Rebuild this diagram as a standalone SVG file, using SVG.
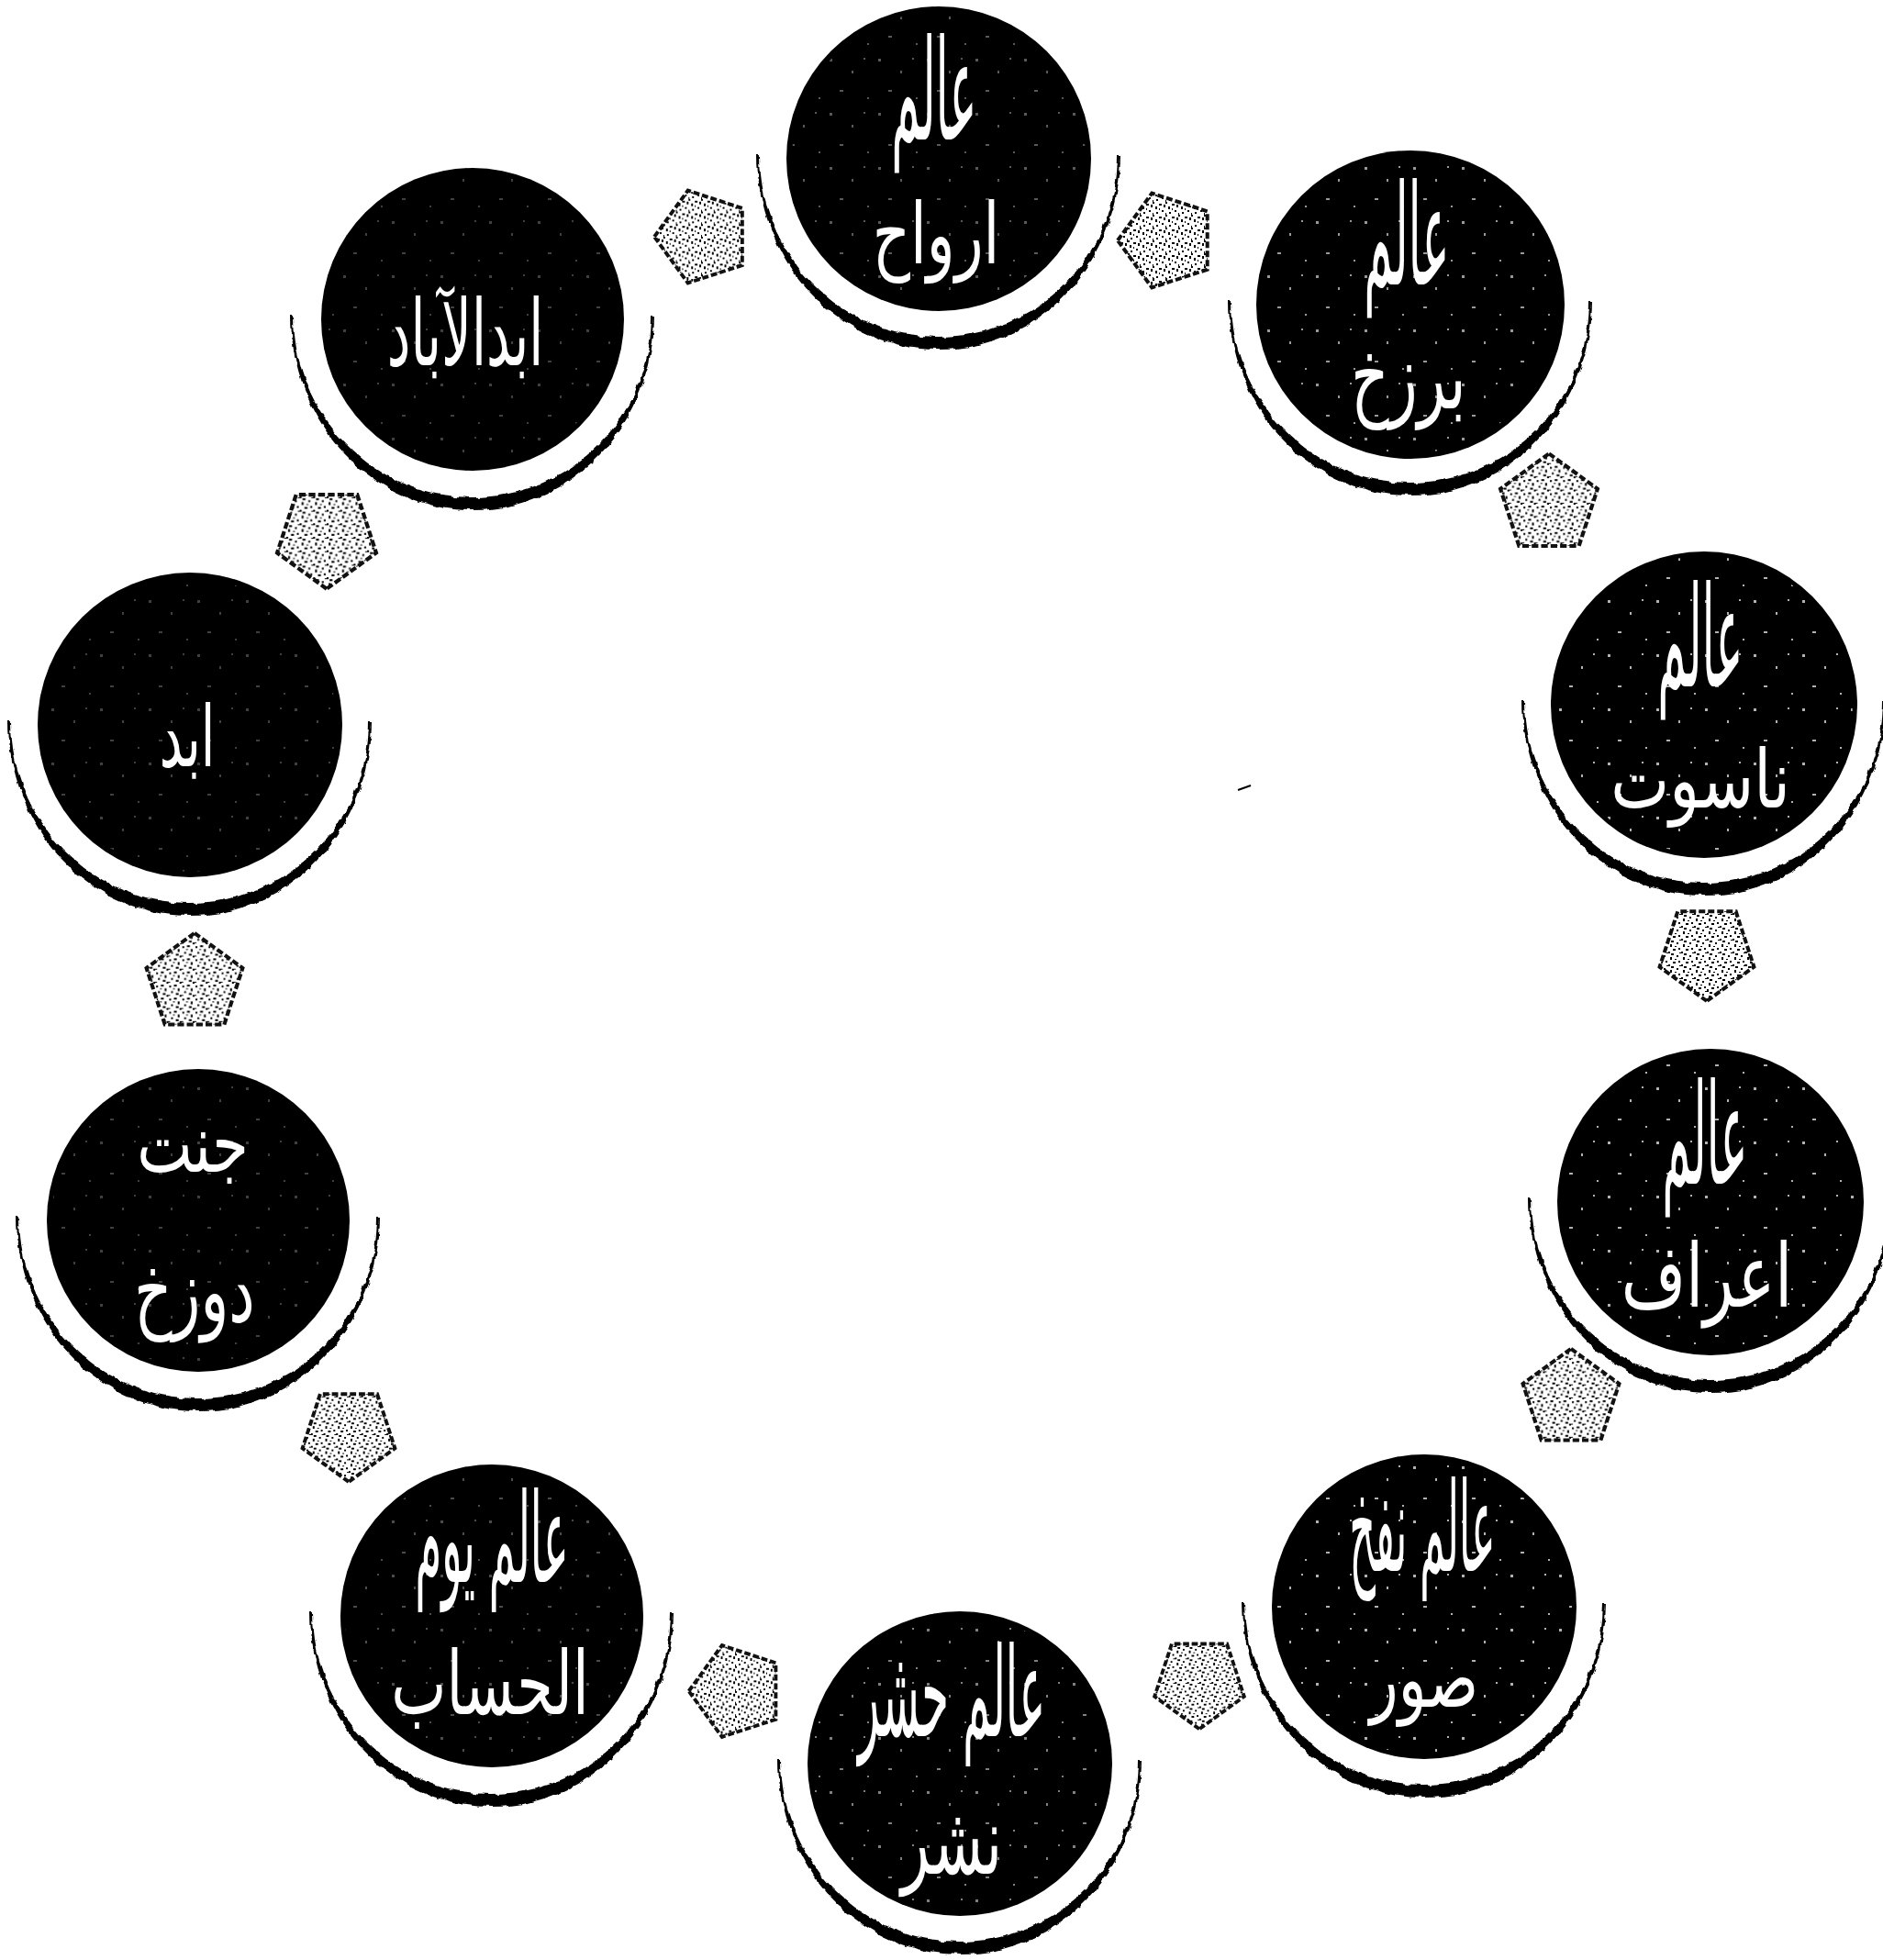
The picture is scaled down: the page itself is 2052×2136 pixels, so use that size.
<svg xmlns="http://www.w3.org/2000/svg" xmlns:xlink="http://www.w3.org/1999/xlink" width="2052" height="2136" viewBox="0 0 2052 2136">
<style>
.disk{fill:#000}
.ring{fill:#000}
.t{fill:#fff;font-family:"DejaVu Sans","Noto Sans",sans-serif;font-size:80px;text-anchor:middle}
.arr{fill:url(#speck);stroke:#111;stroke-width:4;stroke-dasharray:7 3}
.dots{fill:url(#wdots)}
</style>
<defs>
<pattern id="speck" width="14" height="14" patternUnits="userSpaceOnUse">
<rect width="14" height="14" fill="#fff"/>
<rect x="1" y="2" width="2" height="2" fill="#000"/>
<rect x="6" y="1" width="3" height="2" fill="#000"/>
<rect x="10" y="5" width="2" height="3" fill="#000"/>
<rect x="3" y="8" width="2" height="2" fill="#000"/>
<rect x="8" y="10" width="3" height="2" fill="#000"/>
<rect x="12" y="12" width="2" height="2" fill="#000"/>
<rect x="0" y="12" width="2" height="1" fill="#000"/>
<rect x="5" y="5" width="2" height="1" fill="#000"/>
</pattern>
<pattern id="wdots" width="53" height="59" patternUnits="userSpaceOnUse">
<rect x="3" y="5" width="3" height="3" fill="#fff"/>
<rect x="27" y="18" width="2" height="3" fill="#fff"/>
<rect x="14" y="39" width="4" height="2" fill="#fff"/>
<rect x="44" y="47" width="2" height="2" fill="#fff"/>
<rect x="40" y="4" width="2" height="2" fill="#fff"/>
</pattern>
<filter id="rough" x="-10%" y="-10%" width="120%" height="120%">
<feTurbulence type="fractalNoise" baseFrequency="0.09" numOctaves="2" seed="3"/>
<feDisplacementMap in="SourceGraphic" scale="6" xChannelSelector="R" yChannelSelector="G"/>
</filter>
<path id="ringp" d="M -198,-4 A 198 212 0 0 0 198,-4 L 195,-4 A 195 198 0 0 1 -195,-4 Z"/>
<polygon id="pent" points="0,-54 51.4,-16.7 31.7,43.7 -31.7,43.7 -51.4,-16.7"/>
</defs>
<rect width="2052" height="2136" fill="#fff"/>

<g id="node-arwah">
<use xlink:href="#ringp" class="ring" filter="url(#rough)" transform="translate(1023,173)"/>
<circle class="disk" cx="1023" cy="173" r="166"/>
<circle class="dots" cx="1023" cy="173" r="160" opacity="0.35"/>
<text class="t" transform="translate(1018,152) scale(0.62,1.9)">عالم</text>
<text class="t" transform="translate(1020,287) scale(0.8,1.15)">ارواح</text>
</g>

<g id="node-barzakh">
<use xlink:href="#ringp" class="ring" filter="url(#rough)" transform="translate(1537,332)"/>
<circle class="disk" cx="1537" cy="332" r="168"/>
<circle class="dots" cx="1537" cy="332" r="162" opacity="0.6"/>
<text class="t" transform="translate(1533,310) scale(0.62,1.9)">عالم</text>
<text class="t" transform="translate(1535,445) scale(0.8,1.25)">برزخ</text>
</g>

<g id="node-nasut">
<use xlink:href="#ringp" class="ring" filter="url(#rough)" transform="translate(1857,768)"/>
<circle class="disk" cx="1857" cy="768" r="167"/>
<circle class="dots" cx="1857" cy="768" r="162" opacity="0.7"/>
<text class="t" transform="translate(1853,748) scale(0.62,1.9)">عالم</text>
<text class="t" transform="translate(1853,880) scale(0.85,1.1)">ناسوت</text>
</g>

<g id="node-aaraf">
<use xlink:href="#ringp" class="ring" filter="url(#rough)" transform="translate(1864,1310)"/>
<circle class="disk" cx="1864" cy="1310" r="167"/>
<circle class="dots" cx="1864" cy="1310" r="162" opacity="0.7"/>
<text class="t" transform="translate(1858,1290) scale(0.62,1.9)">عالم</text>
<text class="t" transform="translate(1860,1424) scale(0.85,1.2)">اعراف</text>
</g>

<g id="node-nafkh">
<use xlink:href="#ringp" class="ring" filter="url(#rough)" transform="translate(1552,1751)"/>
<circle class="disk" cx="1552" cy="1751" r="166"/>
<circle class="dots" cx="1552" cy="1751" r="161" opacity="0.7"/>
<text class="t" transform="translate(1550,1712) scale(0.55,1.7)">عالم نفخ</text>
<text class="t" transform="translate(1552,1860) scale(0.8,1.1)">صور</text>
</g>

<g id="node-hashr">
<use xlink:href="#ringp" class="ring" filter="url(#rough)" transform="translate(1046,1922)"/>
<circle class="disk" cx="1046" cy="1922" r="166"/>
<circle class="dots" cx="1046" cy="1922" r="161" opacity="0.5"/>
<text class="t" transform="translate(1037,1892) scale(0.6,1.7)">عالم حشر</text>
<text class="t" transform="translate(1037,2042) scale(0.8,1.3)">نشر</text>
</g>

<g id="node-hisab">
<use xlink:href="#ringp" class="ring" filter="url(#rough)" transform="translate(536,1761)"/>
<circle class="disk" cx="536" cy="1761" r="165"/>
<circle class="dots" cx="536" cy="1761" r="160" opacity="0.3"/>
<text class="t" transform="translate(536,1724) scale(0.58,1.7)">عالم یوم</text>
<text class="t" transform="translate(534,1868) scale(0.8,1.2)">الحساب</text>
</g>

<g id="node-jannat">
<use xlink:href="#ringp" class="ring" filter="url(#rough)" transform="translate(216,1330)"/>
<circle class="disk" cx="216" cy="1330" r="165"/>
<circle class="dots" cx="216" cy="1330" r="160" opacity="0.25"/>
<text class="t" transform="translate(210,1277) scale(0.8,1.1)">جنت</text>
<text class="t" transform="translate(212,1440) scale(0.8,1.2)">دوزخ</text>
</g>

<g id="node-abad">
<use xlink:href="#ringp" class="ring" filter="url(#rough)" transform="translate(207,790)"/>
<circle class="disk" cx="207" cy="790" r="166"/>
<circle class="dots" cx="207" cy="790" r="160" opacity="0.25"/>
<text class="t" transform="translate(204,835) scale(0.7,1.15)">ابد</text>
</g>

<g id="node-abadulabad">
<use xlink:href="#ringp" class="ring" filter="url(#rough)" transform="translate(515,348)"/>
<circle class="disk" cx="515" cy="348" r="165"/>
<circle class="dots" cx="515" cy="348" r="160" opacity="0.25"/>
<text class="t" transform="translate(507,398) scale(0.72,1.25)">ابدالآباد</text>
</g>

<g id="connectors">
<use xlink:href="#pent" class="arr" transform="translate(766,258) rotate(-90) scale(0.98)"/>
<use xlink:href="#pent" class="arr" transform="translate(1272,262) rotate(-90)"/>
<use xlink:href="#pent" class="arr" transform="translate(1688,550) scale(1.03)"/>
<use xlink:href="#pent" class="arr" transform="translate(1860,1037) rotate(180)"/>
<use xlink:href="#pent" class="arr" transform="translate(1712,1525) scale(1.02)"/>
<use xlink:href="#pent" class="arr" transform="translate(1307,1833) rotate(180) scale(0.95)"/>
<use xlink:href="#pent" class="arr" transform="translate(803,1843) rotate(-90) scale(0.97)"/>
<use xlink:href="#pent" class="arr" transform="translate(380,1562) rotate(180) scale(0.98)"/>
<use xlink:href="#pent" class="arr" transform="translate(212,1072) scale(1.02)"/>
<use xlink:href="#pent" class="arr" transform="translate(356,585) rotate(180) scale(1.05)"/>
</g>
<line x1="1349" y1="861" x2="1363" y2="856" stroke="#000" stroke-width="2"/>
</svg>
